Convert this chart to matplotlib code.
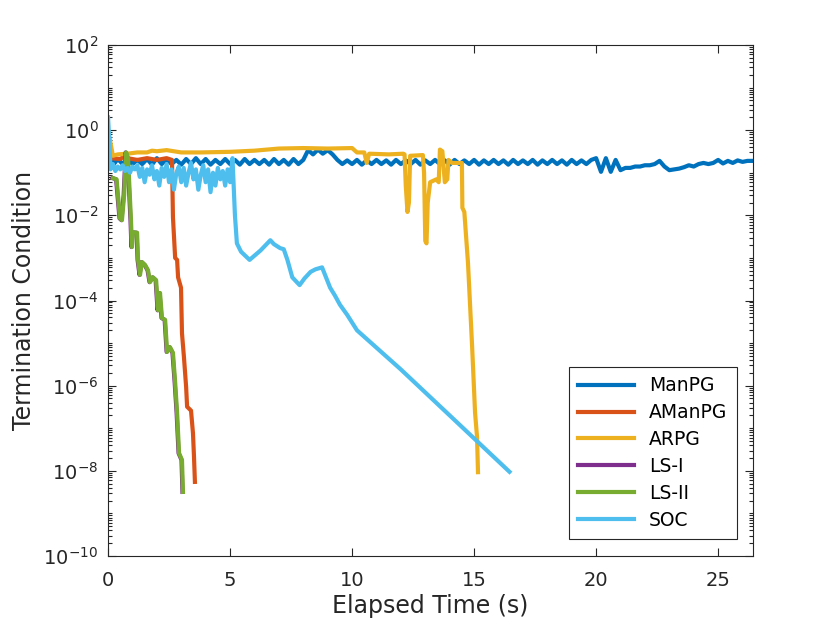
import numpy as np
import matplotlib
matplotlib.use('Agg')
from matplotlib import pyplot as plt
from matplotlib.ticker import LogLocator, NullFormatter, NullLocator

# ManPG: sampled every 0.2 s
manpg_time = np.linspace(0, 26.4, 133)
manpg_val = [0.6, 0.15,
             0.21, 0.16, 0.22, 0.16, 0.2, 0.16, 0.21, 0.155, 0.22, 0.16, 0.21, 0.16,
             0.2, 0.155, 0.21, 0.16, 0.22, 0.16, 0.21, 0.155, 0.2, 0.16, 0.21, 0.16,
             0.2, 0.155, 0.21, 0.16, 0.2, 0.16, 0.2, 0.155, 0.21, 0.16, 0.2, 0.155,
             0.21, 0.16, 0.2,
             0.34, 0.27, 0.35, 0.28, 0.34, 0.27,
             0.2, 0.16, 0.195, 0.16, 0.2, 0.155, 0.195, 0.16, 0.2, 0.16, 0.195, 0.155,
             0.2, 0.16, 0.195, 0.16, 0.2, 0.155, 0.195, 0.16, 0.2, 0.16, 0.195, 0.155,
             0.2, 0.16, 0.195, 0.16, 0.2, 0.155, 0.195, 0.16, 0.2, 0.16, 0.195, 0.155,
             0.2, 0.16, 0.195, 0.16, 0.2, 0.155, 0.195, 0.16, 0.2, 0.16, 0.195, 0.155,
             0.2, 0.16, 0.195, 0.16, 0.2,
             0.22, 0.105, 0.22, 0.105, 0.2, 0.115,
             0.13, 0.13, 0.14, 0.14, 0.15, 0.15, 0.16,
             0.19, 0.14, 0.115,
             0.12, 0.125, 0.135, 0.15, 0.14,
             0.16, 0.17, 0.16, 0.17,
             0.2, 0.165, 0.19, 0.17, 0.195, 0.18, 0.19, 0.19]

amanpg_time = [0, 0.1, 0.5, 0.7, 0.8, 1.2, 1.6, 2.0, 2.4, 2.62, 2.66, 2.75, 2.83, 2.87,
               2.99, 3.03, 3.11, 3.2, 3.24, 3.4, 3.48, 3.52, 3.56]
amanpg_val = [0.4, 0.22, 0.21, 0.25, 0.22, 0.2, 0.22, 0.2, 0.22, 0.2, 0.009, 1e-3, 9e-4,
              3.5e-4, 2e-4, 1.7e-5, 4.7e-6, 9.3e-7, 3.2e-7, 2.6e-7, 7.7e-8, 2.3e-8, 5.5e-9]

arpg_time = [0, 0.1, 0.2, 0.4, 0.8, 1.2, 1.6, 1.8, 2.0, 2.4, 3.0, 3.8, 5.0, 6.0, 7.0,
             8.0, 9.0, 10.0, 10.2, 10.5, 10.6, 10.7, 11.5, 12.1, 12.15, 12.2, 12.27,
             12.33, 12.38, 12.9, 12.95, 13.0, 13.05, 13.1, 13.2, 13.45, 13.55, 13.6,
             13.7, 13.8, 13.9, 13.95, 14.1, 14.5, 14.52, 14.6, 14.75, 14.92, 15.04,
             15.12, 15.16]
arpg_val = [1.0, 0.5, 0.25, 0.27, 0.28, 0.3, 0.3, 0.33, 0.32, 0.34, 0.3, 0.3, 0.31, 0.33,
            0.37, 0.38, 0.37, 0.38, 0.3, 0.3, 0.17, 0.28, 0.27, 0.28, 0.27, 0.05, 0.012,
            0.02, 0.25, 0.26, 0.1, 0.0025, 0.0022, 0.02, 0.06, 0.07, 0.06, 0.35,
            0.32, 0.06, 0.07, 0.2, 0.17, 0.17, 0.015, 0.012, 7.6e-4, 8.1e-6, 2.3e-7,
            6.3e-8, 9.3e-9]

ls2_time = [0.2, 0.35, 0.49, 0.57, 0.66, 0.74, 0.82, 0.94, 0.98, 1.02, 1.19, 1.23, 1.31,
            1.39, 1.52, 1.64, 1.72, 1.84, 1.97, 2.05, 2.13, 2.21, 2.34, 2.42, 2.54,
            2.66, 2.75, 2.83, 2.91, 3.03, 3.07]
ls2_val = [0.075, 0.07, 0.0085, 0.0077, 0.03, 0.3, 0.22, 0.0077, 0.0018, 0.004, 0.0039,
           9e-4, 4e-4, 8e-4, 6.8e-4, 5.1e-4, 2.7e-4, 3.5e-4, 3e-4, 5.9e-5, 1.5e-4,
           3.9e-5, 3.5e-5, 6.2e-6, 8e-6, 5.9e-6, 1.2e-6, 2.3e-7, 2.6e-8, 1.8e-8, 3.2e-9]

ls1_time = [0.18, 0.33, 0.47, 0.55, 0.64, 0.72, 0.8, 0.92, 0.96, 1.0, 1.17, 1.21, 1.29,
            1.37, 1.5, 1.62, 1.7, 1.82, 1.95, 2.03, 2.11, 2.19, 2.32, 2.4, 2.52,
            2.64, 2.73, 2.81, 2.89, 3.01, 3.05]
ls1_val = ls2_val

soc_time = [0, 0.05, 0.1, 0.2, 0.3, 0.4, 0.5, 0.6, 0.7, 0.8, 0.9, 1.0, 1.1, 1.2, 1.3, 1.4,
            1.5, 1.6, 1.7, 1.8, 1.9, 2.0, 2.1, 2.2, 2.3, 2.4, 2.5, 2.6, 2.7, 2.8, 2.9,
            3.0, 3.1, 3.2, 3.3, 3.4, 3.5, 3.6, 3.7, 3.8, 3.9, 4.0, 4.1, 4.2, 4.3, 4.4,
            4.5, 4.6, 4.7, 4.8, 4.9, 5.0, 5.1, 5.2, 5.28, 5.45, 5.8, 6.25, 6.65, 6.8,
            7.05, 7.2, 7.35, 7.55, 7.85, 8.05, 8.3, 8.5, 8.77, 9.1, 9.3, 9.5, 9.8,
            10.2, 12.0, 14.0, 16.45]
soc_val = [2.0, 0.6, 0.12, 0.16, 0.11, 0.14, 0.12, 0.15, 0.11, 0.13, 0.1, 0.14, 0.12, 0.15,
           0.08, 0.13, 0.06, 0.12, 0.09, 0.15, 0.07, 0.11, 0.05, 0.13, 0.08, 0.16, 0.06,
           0.12, 0.04, 0.1, 0.14, 0.06, 0.13, 0.05, 0.1, 0.17, 0.07, 0.12, 0.04, 0.09,
           0.15, 0.06, 0.12, 0.035, 0.1, 0.05, 0.13, 0.07, 0.11, 0.05, 0.12, 0.06, 0.22,
           0.01, 0.0022, 0.0014, 0.0009, 0.0015, 0.0026, 0.0021, 0.0017, 0.0016, 0.0009,
           0.00035, 0.00023, 0.00033, 0.00047, 0.00054, 0.0006, 0.0002, 0.00013, 8e-5,
           4.6e-5, 2e-5, 2.4e-6, 2e-7, 9.5e-9]

series = [('ManPG', manpg_time, manpg_val, '#0072BD'),
          ('AManPG', amanpg_time, amanpg_val, '#D95319'),
          ('ARPG', arpg_time, arpg_val, '#EDB120'),
          ('LS-I', ls1_time, ls1_val, '#7E2F8E'),
          ('LS-II', ls2_time, ls2_val, '#77AC30'),
          ('SOC', soc_time, soc_val, '#4DBEEE')]

plt.rcParams['font.family'] = ['DejaVu Sans']
axis_color = '#262626'

fig = plt.figure(figsize=(8.33, 6.25), dpi=100)
ax = fig.add_axes([0.1297, 0.1104, 0.7743, 0.8176])

for name, t, v, c in series:
    ax.semilogy(t, v, color=c, linewidth=3, label=name, solid_joinstyle='round')

ax.set_xlim(0, 26.43)
ax.set_ylim(1e-10, 1e2)
ax.set_xticks([0, 5, 10, 15, 20, 25])
ax.xaxis.set_minor_locator(NullLocator())
ax.set_yticks([1e-10, 1e-8, 1e-6, 1e-4, 1e-2, 1e0, 1e2])
ax.yaxis.set_minor_locator(LogLocator(base=10, subs=np.arange(1, 10), numticks=100))
ax.yaxis.set_minor_formatter(NullFormatter())

ax.tick_params(which='both', direction='in', top=True, right=True, colors=axis_color,
               labelsize=14, width=0.8)
ax.tick_params(which='major', length=6)
ax.tick_params(which='minor', length=3)
ax.tick_params(axis='x', pad=11)
ax.tick_params(axis='y', pad=7)
for sp in ax.spines.values():
    sp.set_color(axis_color)
    sp.set_linewidth(0.8)

ax.set_xlabel('Elapsed Time (s)', fontsize=17, color=axis_color, labelpad=3)
ax.set_ylabel('Termination Condition', fontsize=17, color=axis_color, labelpad=5)

leg = ax.legend(loc='lower right', bbox_to_anchor=(0.975, 0.0333), borderaxespad=0,
                fontsize=13.5, fancybox=False, framealpha=1, edgecolor=axis_color,
                handlelength=3.0, borderpad=0.5, labelspacing=0.42)
leg.get_frame().set_linewidth(0.8)

plt.savefig('out.png', dpi=100)
